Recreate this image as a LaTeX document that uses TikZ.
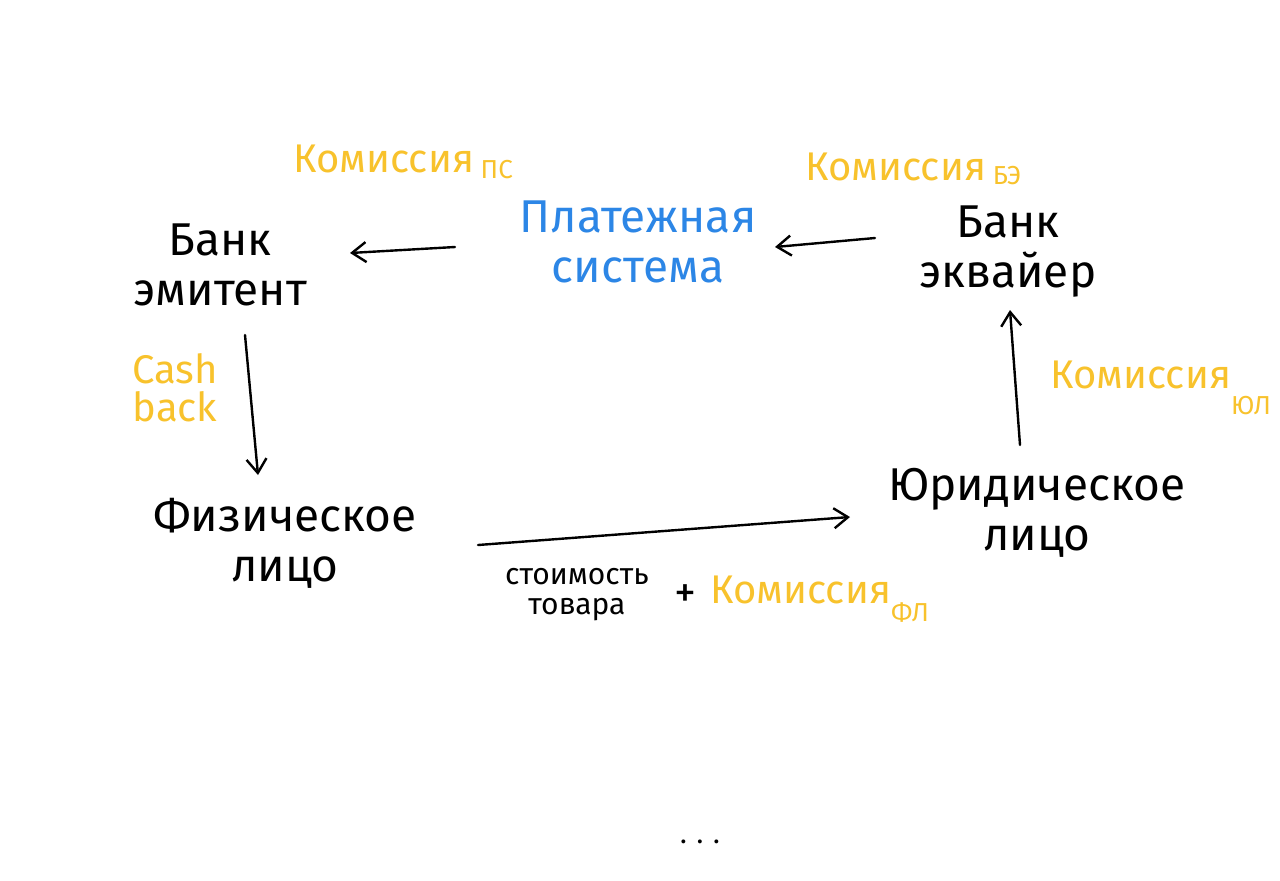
\documentclass[tikz,border=0pt]{standalone}
\usepackage{fontspec}
\setmainfont{Fira Sans}
\usetikzlibrary{arrows.meta,calc}
\definecolor{hlyellow}{HTML}{F8C22C}
\definecolor{psblue}{HTML}{2C86E6}
\newcommand\mysub[2]{\raisebox{#1}{\fontsize{13}{13}\selectfont #2}}
\begin{document}
\begin{tikzpicture}[x=0.5pt,y=-0.5pt,
  big/.style={font=\fontsize{23}{25}\selectfont, align=center, inner sep=0pt},
  yel/.style={text=hlyellow, font=\fontsize{20}{20}\selectfont, inner sep=0pt},
  small/.style={font=\fontsize{15}{15}\selectfont, align=center, inner sep=0pt},
  arr/.style={-{Straight Barb[length=7pt,width=10pt]}, line width=1.2pt, line cap=round}]
\useasboundingbox (0,0) rectangle (1280,880);
\fill[white] (0,0) rectangle (1280,880);
% main nodes
\node[big] (be) at (220,265) {Банк\\эмитент};
\node[big, text=psblue] (ps) at (638,242) {Платежная\\система};
\node[big] (ba) at (1008,252) {Банк\\эквайер};
\node[big] (fl) at (285,543) {Физическое\\лицо};
\node[big] (ul) at (1037,513) {Юридическое\\лицо};
% labels
\node[yel, anchor=base west] (kps) at (293,172) {Комиссия\,\mysub{-3pt}{ПС}};
\node[yel, anchor=base west] (kbe) at (805,180) {Комиссия\,\mysub{-2pt}{БЭ}};
\node[yel, anchor=base west] (kul) at (1050,388) {Комиссия\mysub{-13pt}{ЮЛ}};
\node[yel, align=center, font=\fontsize{20}{19}\selectfont] (cb) at (175,388) {Cash\\back};
\node[small] (cost) at (577,595) {стоимость\\товара};
\node[inner sep=0pt, font=\fontsize{22}{22}\selectfont] (plus) at (685,596) {+};
\node[yel, anchor=base west] (kfl) at (710,603) {Комиссия\mysub{-9pt}{ФЛ}};
\node[inner sep=0pt, font=\fontsize{14}{14}\selectfont] (dots) at (700,842) {. . .};
% connectors
\draw[arr] ($(ps.center)+(-183,5)$) -- ($(be.center)+(130,-12)$);
\draw[arr] ($(ba.center)+(-133,-14)$) -- ($(ps.center)+(137,5)$);
\draw[arr] ($(be.center)+(25,70)$) -- ($(fl.center)+(-27,-68)$);
\draw[arr] ($(fl.center)+(193,2)$) -- ($(ul.center)+(-187,4)$);
\draw[arr] ($(ul.center)+(-17,-68)$) -- ($(ba.center)+(2,58)$);
\end{tikzpicture}
\end{document}
